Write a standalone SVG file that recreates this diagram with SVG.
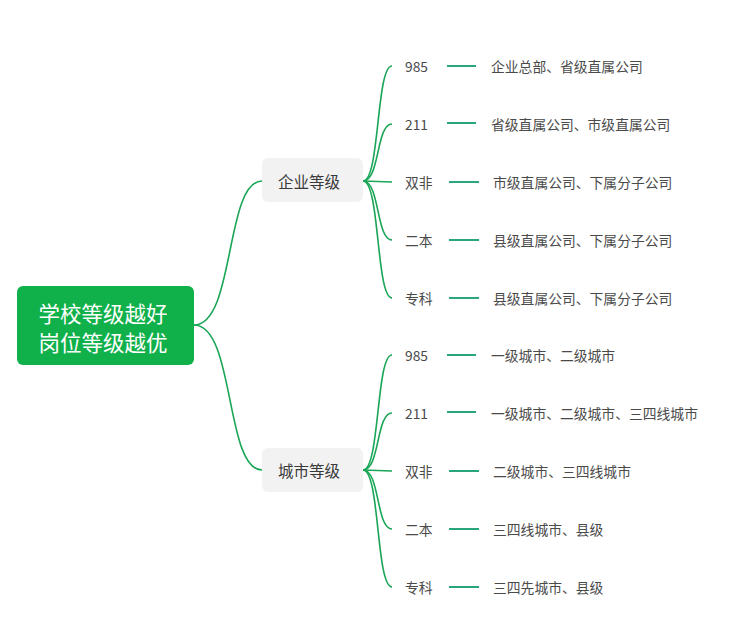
<svg xmlns="http://www.w3.org/2000/svg" width="730" height="632" viewBox="0 0 730 632">
<style>
.bg{fill:#ffffff}
.curve{fill:none;stroke:#1aa557;stroke-width:1.6}
.dash{stroke:#2aa77a;stroke-width:2}
.t{font-family:"Noto Sans CJK SC","Liberation Sans",sans-serif;fill:#4a4a4a;font-size:13.8px;dominant-baseline:central}
.bt{font-family:"Noto Sans CJK SC","Liberation Sans",sans-serif;fill:#3a3a3a;font-size:15.5px;dominant-baseline:central;text-anchor:middle}
.rt{font-family:"Noto Sans CJK SC","Liberation Sans",sans-serif;fill:#ffffff;font-size:21.5px;dominant-baseline:central;text-anchor:middle}
.box{fill:#f2f2f2}
</style>
<rect class="bg" x="0" y="0" width="730" height="632"/>
<g id="connectors">
<path class="curve" d="M194,325 C235,325 225,181 262,181"/>
<path class="curve" d="M194,325 C235,325 225,470 262,470"/>
<path class="curve" d="M363,181 C380,181 376,66 392,66"/>
<path class="curve" d="M363,181 C380,181 376,124 392,124"/>
<path class="curve" d="M363,181 L392,182"/>
<path class="curve" d="M363,181 C380,181 376,240 392,240"/>
<path class="curve" d="M363,181 C380,181 376,298 392,298"/>
<path class="curve" d="M363,470 C380,470 376,355 392,355"/>
<path class="curve" d="M363,470 C380,470 376,413 392,413"/>
<path class="curve" d="M363,470 L392,471"/>
<path class="curve" d="M363,470 C380,470 376,529 392,529"/>
<path class="curve" d="M363,470 C380,470 376,587 392,587"/>
<line class="dash" x1="447" y1="66" x2="476" y2="66"/>
<line class="dash" x1="447" y1="123" x2="476" y2="123"/>
<line class="dash" x1="449" y1="182" x2="479" y2="182"/>
<line class="dash" x1="449" y1="240" x2="479" y2="240"/>
<line class="dash" x1="449" y1="298" x2="479" y2="298"/>
<line class="dash" x1="447" y1="355" x2="476" y2="355"/>
<line class="dash" x1="447" y1="412" x2="476" y2="412"/>
<line class="dash" x1="449" y1="471" x2="479" y2="471"/>
<line class="dash" x1="449" y1="529" x2="479" y2="529"/>
<line class="dash" x1="449" y1="587" x2="479" y2="587"/>
</g>
<g id="root">
<rect x="17" y="286" width="177" height="79" rx="6" fill="#10b04a"/>
<text class="rt" x="103" y="312">学校等级越好</text>
<text class="rt" x="103" y="341">岗位等级越优</text>
</g>
<g id="branch-enterprise">
<rect class="box" x="262" y="158" width="101" height="44" rx="6"/>
<text class="bt" x="309" y="181">企业等级</text>
</g>
<g id="branch-city">
<rect class="box" x="262" y="448" width="101" height="44" rx="6"/>
<text class="bt" x="309" y="470">城市等级</text>
</g>
<g id="e985"><text class="t" x="405" y="66">985</text><text class="t" x="491" y="66">企业总部、省级直属公司</text></g>
<g id="e211"><text class="t" x="405" y="124">211</text><text class="t" x="491" y="124">省级直属公司、市级直属公司</text></g>
<g id="eshuangfei"><text class="t" x="405" y="182">双非</text><text class="t" x="493" y="182">市级直属公司、下属分子公司</text></g>
<g id="eerben"><text class="t" x="405" y="240">二本</text><text class="t" x="493" y="240">县级直属公司、下属分子公司</text></g>
<g id="ezhuanke"><text class="t" x="405" y="298">专科</text><text class="t" x="493" y="298">县级直属公司、下属分子公司</text></g>
<g id="c985"><text class="t" x="405" y="355">985</text><text class="t" x="491" y="355">一级城市、二级城市</text></g>
<g id="c211"><text class="t" x="405" y="413">211</text><text class="t" x="491" y="413">一级城市、二级城市、三四线城市</text></g>
<g id="cshuangfei"><text class="t" x="405" y="471">双非</text><text class="t" x="493" y="471">二级城市、三四线城市</text></g>
<g id="cerben"><text class="t" x="405" y="529">二本</text><text class="t" x="493" y="529">三四线城市、县级</text></g>
<g id="czhuanke"><text class="t" x="405" y="587">专科</text><text class="t" x="493" y="587">三四先城市、县级</text></g>
</svg>
